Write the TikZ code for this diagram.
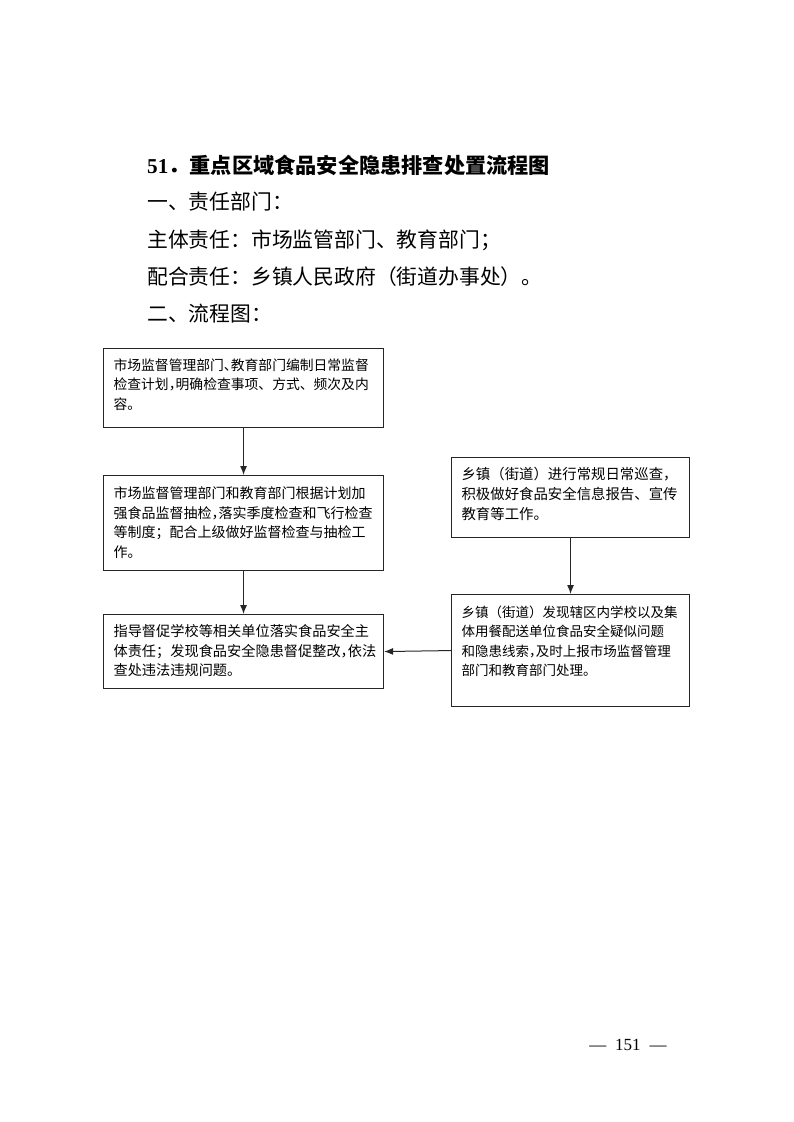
\documentclass[tikz,border=0pt]{standalone}
\usepackage{fontspec}
\setmainfont{Liberation Serif}
\newfontfamily\cjk{Noto Sans CJK SC}
\usetikzlibrary{arrows.meta}
% half-width punctuation (glyph sits at the left of its em box)
\newcommand\hc[1]{\makebox[0.5em][l]{#1}}
\newcommand\boxtxt[5]{\begin{minipage}[c][#2][t]{#1}\vspace*{#3}\raggedright\cjk\fontsize{#4}{19.6}\selectfont #5\end{minipage}}
\tikzset{
  flowbox/.style={draw=black!85, line width=1.1pt, inner xsep=10pt, inner ysep=0pt, anchor=north west},
  flowarrow/.style={draw=black!85, line width=1pt, -{Latex[length=9pt,width=7pt]}},
  heading/.style={anchor=west, inner sep=0pt, font=\fontsize{20.8}{24}\selectfont\cjk},
}
\begin{document}
\begin{tikzpicture}[x=1pt,y=-1pt]
\useasboundingbox (0,0) rectangle (793,1122);
% headings
\node[heading, font=\fontsize{21.2}{24}\selectfont\bfseries] (title) at (147,165) {51{\cjk ．重点区域食品安全隐患排查处置流程图}};
\node[heading] (h1) at (147,202) {一、责任部门：};
\node[heading] (h2) at (147,240) {主体责任：市场监管部门、教育部门；};
\node[heading] (h3) at (147,277) {配合责任：乡镇人民政府（街道办事处）。};
\node[heading] (h4) at (147,314) {二、流程图：};
% boxes
\node[flowbox] (b1) at (103,348) {\boxtxt{260pt}{79pt}{10pt}{13.8}{市场监督管理部门\hc{、}教育部门编制日常监督\\检查计划\hc{，}明确检查事项、方式、频次及内\\容。}};
\node[flowbox] (b2) at (103,475) {\boxtxt{260pt}{95pt}{11pt}{14}{市场监督管理部门和教育部门根据计划加\\强食品监督抽检\hc{，}落实季度检查和飞行检查\\等制度；配合上级做好监督检查与抽检工\\作。}};
\node[flowbox] (b3) at (103,614) {\boxtxt{260pt}{74pt}{10pt}{14.2}{指导督促学校等相关单位落实食品安全主\\体责任；发现食品安全隐患督促整改\hc{，}依法\\查处违法违规问题。}};
\node[flowbox] (b4) at (451,457) {\boxtxt{218pt}{80pt}{10pt}{14.4}{乡镇（街道）进行常规日常巡查，\\积极做好食品安全信息报告、宣传\\教育等工作。}};
\node[flowbox] (b5) at (451,594) {\boxtxt{218pt}{112pt}{11pt}{13.5}{乡镇（街道）发现辖区内学校以及集\\体用餐配送单位食品安全疑似问题\\和隐患线索\hc{，}及时上报市场监督管理\\部门和教育部门处理。}};
% arrows
\draw[flowarrow] (b1.south) -- (b2.north);
\draw[flowarrow] (b2.south) -- (b3.north);
\draw[flowarrow] (b4.south) -- (b5.north);
\draw[flowarrow] (b5.west) -- (b3.east);
% page number
\node[anchor=center, inner sep=0pt, font=\fontsize{17}{20}\selectfont] (pg) at (628,1045) {—\hspace{9pt}151\hspace{9pt}—};
\end{tikzpicture}
\end{document}
